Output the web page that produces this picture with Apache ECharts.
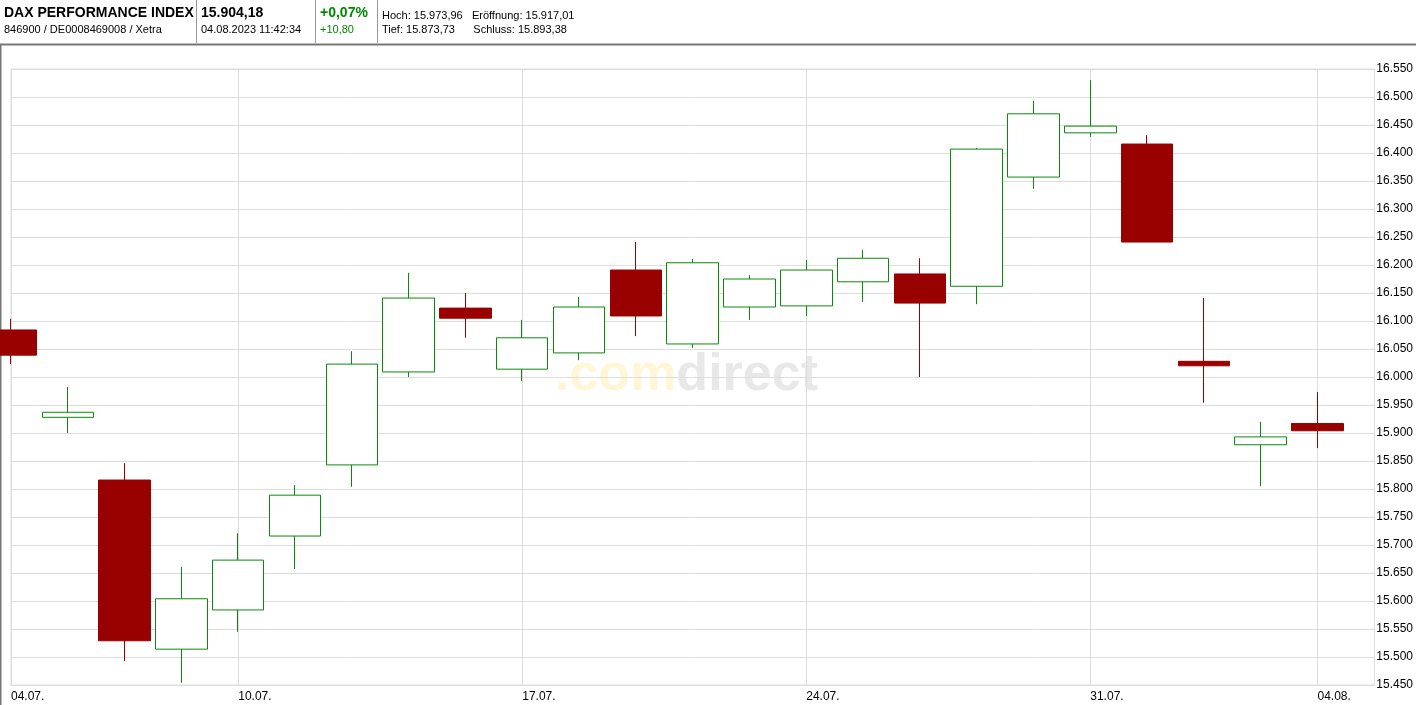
<!DOCTYPE html>
<html><head><meta charset="utf-8">
<script src="https://cdn.jsdelivr.net/npm/echarts@6/dist/echarts.min.js"></script>
<style>html,body{margin:0;padding:0;background:#fff}#c{width:1416px;height:705px}</style>
</head><body><div id="c"></div>
<script>
const categories = ['04.07.','05.07.','06.07.','07.07.','10.07.','11.07.','12.07.','13.07.','14.07.','17.07.','18.07.','19.07.','20.07.','21.07.','24.07.','25.07.','26.07.','27.07.','28.07.','31.07.','01.08.','02.08.','03.08.','04.08.',''];
const opens  = [16084,15928,15816,15514,15584,15716,15843,16009,16123,16014,16043,16191,16059,16125,16127,16170,16184,16162,16357,16436,16416,16028,15879,15917];
const closes = [16039,15937,15529,15604,15673,15789,16023,16141,16105,16070,16125,16109,16204,16175,16191,16212,16132,16407,16470,16448,16241,16020,15893,15904];
const lows   = [16023,15900,15493,15454,15545,15657,15804,16000,16070,15993,16030,16073,16052,16102,16109,16134,16000,16130,16336,16429,16241,15954,15805,15873];
const highs  = [16104,15982,15846,15661,15721,15807,16046,16186,16150,16102,16143,16241,16211,16182,16209,16227,16212,16409,16493,16530,16432,16141,15920,15973];
const labelIdx = [0,4,9,14,19,23];

const data = opens.map((o,i)=>[o, closes[i], lows[i], highs[i]]);
const fmt = v => (v/1000).toFixed(3);
const chart = echarts.init(document.getElementById('c'));
const F = 'Liberation Sans, Arial, sans-serif';
chart.setOption({
  animation:false,
  textStyle:{fontFamily:F},
  grid:{left:11, right:38, top:69, bottom:20, show:true, borderColor:'#ddd', borderWidth:1},
  xAxis:{type:'category', data:categories, boundaryGap:false,
    axisLine:{lineStyle:{color:'#ddd'}}, axisTick:{show:false},
    axisLabel:{interval:(i)=>labelIdx.includes(i), color:'#000', fontSize:12, align:'left', margin:6, fontFamily:F},
    splitLine:{show:true, interval:(i)=>labelIdx.includes(i), lineStyle:{color:'#ddd'}}},
  yAxis:{type:'value', position:'right', min:15450, max:16550, interval:50,
    axisLine:{show:false}, axisTick:{show:false},
    axisLabel:{color:'#000', fontSize:12, margin:2, formatter:fmt, fontFamily:F},
    splitLine:{lineStyle:{color:'#ddd'}}},
  series:[{type:'candlestick', data:data, barWidth:52, clip:true,
    itemStyle:{color:'#ffffff', color0:'#990000', borderColor:'#0a8a0a', borderColor0:'#990000', borderWidth:1}}],
  graphic:[
    {type:'line', shape:{x1:0,y1:44.5,x2:1416,y2:44.5}, style:{stroke:'#777', lineWidth:2}},
    {type:'line', shape:{x1:0.5,y1:44,x2:0.5,y2:705}, style:{stroke:'#777', lineWidth:2}},
    {type:'line', shape:{x1:196.5,y1:0,x2:196.5,y2:43}, style:{stroke:'#999'}},
    {type:'line', shape:{x1:315.5,y1:0,x2:315.5,y2:43}, style:{stroke:'#999'}},
    {type:'line', shape:{x1:377.5,y1:0,x2:377.5,y2:43}, style:{stroke:'#999'}},
    {type:'text', left:4, top:6, style:{text:'DAX PERFORMANCE INDEX', font:'bold 14px '+F, fill:'#000'}},
    {type:'text', left:4, top:24, style:{text:'846900 / DE0008469008 / Xetra', font:'11px '+F, fill:'#000'}},
    {type:'text', left:201, top:6, style:{text:'15.904,18', font:'bold 14px '+F, fill:'#000'}},
    {type:'text', left:201, top:24, style:{text:'04.08.2023 11:42:34', font:'11px '+F, fill:'#000'}},
    {type:'text', left:320, top:6, style:{text:'+0,07%', font:'bold 14px '+F, fill:'#008a00'}},
    {type:'text', left:320, top:24, style:{text:'+10,80', font:'11px '+F, fill:'#008a00'}},
    {type:'text', left:382, top:10, style:{text:'Hoch: 15.973,96   Eröffnung: 15.917,01', font:'11px '+F, fill:'#000'}},
    {type:'text', left:382, top:24, style:{text:'Tief: 15.873,73      Schluss: 15.893,38', font:'11px '+F, fill:'#000'}},
    {type:'text', left:555, top:350, z:-1, style:{text:'{a|.com}{b|direct}', rich:{a:{font:'bold 52px '+F, fill:'rgba(255,225,120,0.3)'}, b:{font:'bold 52px '+F, fill:'rgba(150,150,150,0.22)'}}}}
  ]
});
</script></body></html>
